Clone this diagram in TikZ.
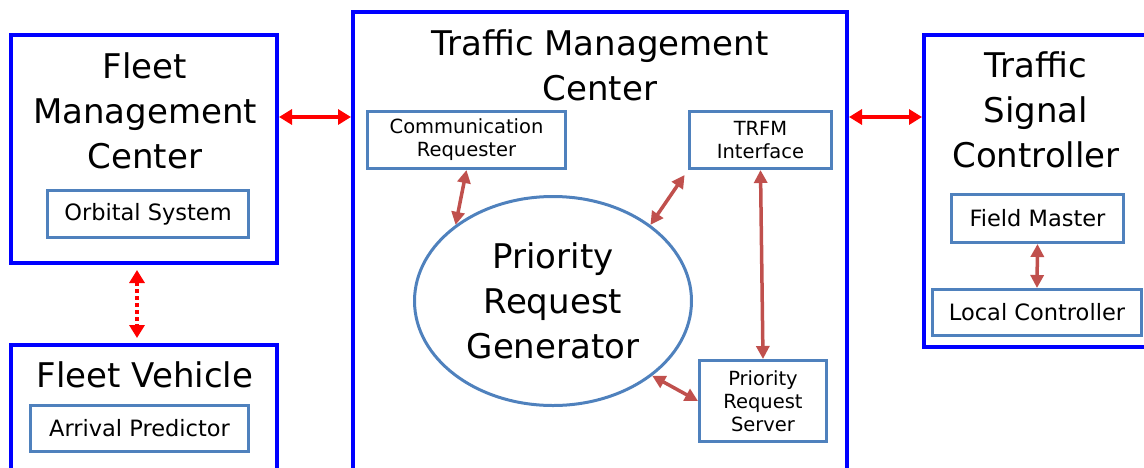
\documentclass[tikz,border=0pt]{standalone}
\usepackage{fontspec}
\setmainfont{DejaVu Sans}
\usepackage{xcolor}
\usetikzlibrary{arrows.meta,positioning,shapes.geometric}
\definecolor{boxblue}{RGB}{0,0,255}
\definecolor{subblue}{RGB}{79,129,189}
\definecolor{linkred}{RGB}{255,0,0}
\definecolor{flowred}{RGB}{192,80,77}
\tikzset{
frame/.style={draw=boxblue,line width=4pt,inner sep=0pt},
part/.style={draw=subblue,line width=3pt,fill=white,inner sep=0pt,align=center,
  font=\fontsize{22.5}{27}\selectfont},
smallpart/.style={part,font=\fontsize{19.5}{23}\selectfont},
title/.style={inner sep=0pt,align=center,font=\fontsize{34}{45}\selectfont},
link/.style={draw=linkred,line width=4pt,
  {Triangle[length=13pt,width=15pt]}-{Triangle[length=13pt,width=15pt]}},
flow/.style={draw=flowred,line width=3.5pt,
  {Triangle[length=13pt,width=13pt]}-{Triangle[length=13pt,width=13pt]}}
}
\begin{document}
\begin{tikzpicture}[x=1pt,y=-1pt]
\useasboundingbox (0,0) rectangle (1144,467);
\clip (0,0) rectangle (1144,467);
\node[frame,minimum width=266pt,minimum height=228pt] (fmc) at (144,149) {};
\node[title] (fmctitle) at (145,111) {Fleet\\Management\\Center};
\node[part,minimum width=201pt,minimum height=47pt] (orbital) at (148,214) {Orbital System};
\node[frame,minimum width=266pt,minimum height=160pt] (fv) at (144,425) {};
\node[title,anchor=base] (fvtitle) at (145,387) {Fleet Vehicle};
\node[part,minimum width=218pt,minimum height=46pt] (arrival) at (139.5,428.5) {Arrival Predictor};
\node[frame,minimum width=494pt,minimum height=520pt] (tmc) at (600,272) {};
\node[title] (tmctitle) at (600,65) {Traffic Management\\Center};
\node[smallpart,minimum width=198pt,minimum height=57pt] (comreq) at (466.5,140) {Communication\\Requester};
\node[smallpart,minimum width=142pt,minimum height=57pt] (trfm) at (760.5,140) {TRFM\\Interface};
\node[ellipse,draw=subblue,line width=3pt,inner sep=0pt,minimum width=277pt,minimum height=209pt,
  align=center,font=\fontsize{34}{45}\selectfont] (prg) at (553,301) {Priority\\Request\\Generator};
\node[smallpart,minimum width=127pt,minimum height=81pt] (prs) at (763,401) {Priority\\Request\\Server};
\node[frame,minimum width=276pt,minimum height=312pt] (tsc) at (1062,191) {};
\node[title] (tsctitle) at (1036,110) {Traffic\\Signal\\Controller};
\node[part,minimum width=172pt,minimum height=48pt] (fieldm) at (1037.5,218.5) {Field Master};
\node[part,minimum width=209pt,minimum height=46pt] (localc) at (1037,312.5) {Local Controller};
\coordinate (linky) at (0,117);
\draw[link] (fmc.east |- linky) -- (tmc.west |- linky);
\draw[link] (tmc.east |- linky) -- (tsc.west |- linky);
\draw[link,dash pattern=on 4pt off 3pt,shorten <=5pt,shorten >=5pt]
  ([xshift=-7pt]fmc.south) -- ([xshift=-7pt]fv.north);
\draw[flow] (comreq.south) -- (prg.142);
\draw[flow,shorten >=6pt] (prg.38) -- (trfm.south west);
\draw[flow] (trfm.south) -- (prs.north);
\draw[flow] (prs.west) -- (prg.-37);
\draw[flow] (fieldm.south) -- (localc.north);
\end{tikzpicture}
\end{document}
